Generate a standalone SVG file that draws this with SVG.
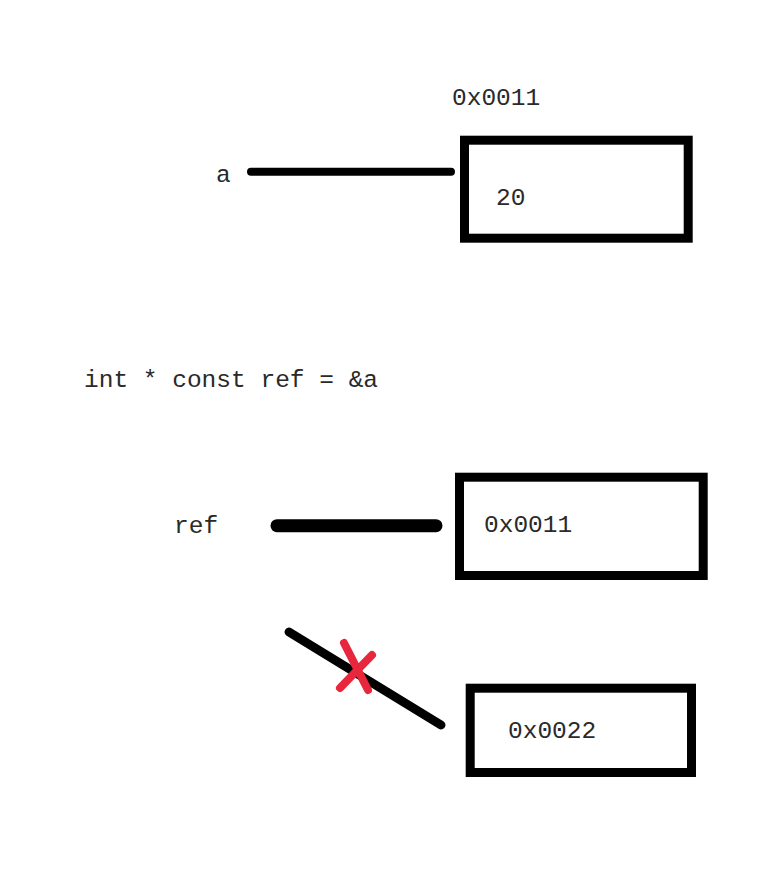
<svg xmlns="http://www.w3.org/2000/svg" width="774" height="870" viewBox="0 0 774 870">
<style>
.box{fill:#fff;stroke:#000;stroke-width:9}
.t{font-family:"Liberation Mono","DejaVu Sans Mono",monospace;font-size:24.5px;fill:#2a2a2a}
.ln{stroke:#000;stroke-linecap:round;fill:none}
.x{stroke:#e8263c;stroke-width:8;stroke-linecap:round;fill:none}
</style>
<rect width="774" height="870" fill="#fff"/>
<text class="t" x="84" y="387">int * const ref = &amp;a</text>
<g id="var-a">
<text class="t" x="216" y="182">a</text>
</g>
<g id="box-a">
<text class="t" x="452" y="105">0x0011</text>
<rect class="box" x="464.5" y="140.2" width="223.7" height="98"/>
<text class="t" x="496" y="205">20</text>
</g>
<g id="var-ref">
<text class="t" x="174" y="533">ref</text>
</g>
<g id="box-ref">
<rect class="box" x="459.5" y="477.2" width="243.7" height="98.3"/>
<text class="t" x="484" y="532">0x0011</text>
</g>
<g id="box-other">
<rect class="box" x="470.2" y="688.2" width="221.3" height="84.3"/>
<text class="t" x="508" y="738">0x0022</text>
</g>
<g id="connectors">
<line class="ln" x1="251" y1="171.7" x2="451" y2="171.7" stroke-width="8"/>
<line class="ln" x1="277" y1="525.7" x2="436" y2="525.7" stroke-width="13"/>
<line class="ln" x1="289" y1="632" x2="441" y2="725" stroke-width="9"/>
<line class="x" x1="344" y1="643" x2="368" y2="690"/>
<line class="x" x1="372" y1="655" x2="340" y2="688"/>
</g>
</svg>
